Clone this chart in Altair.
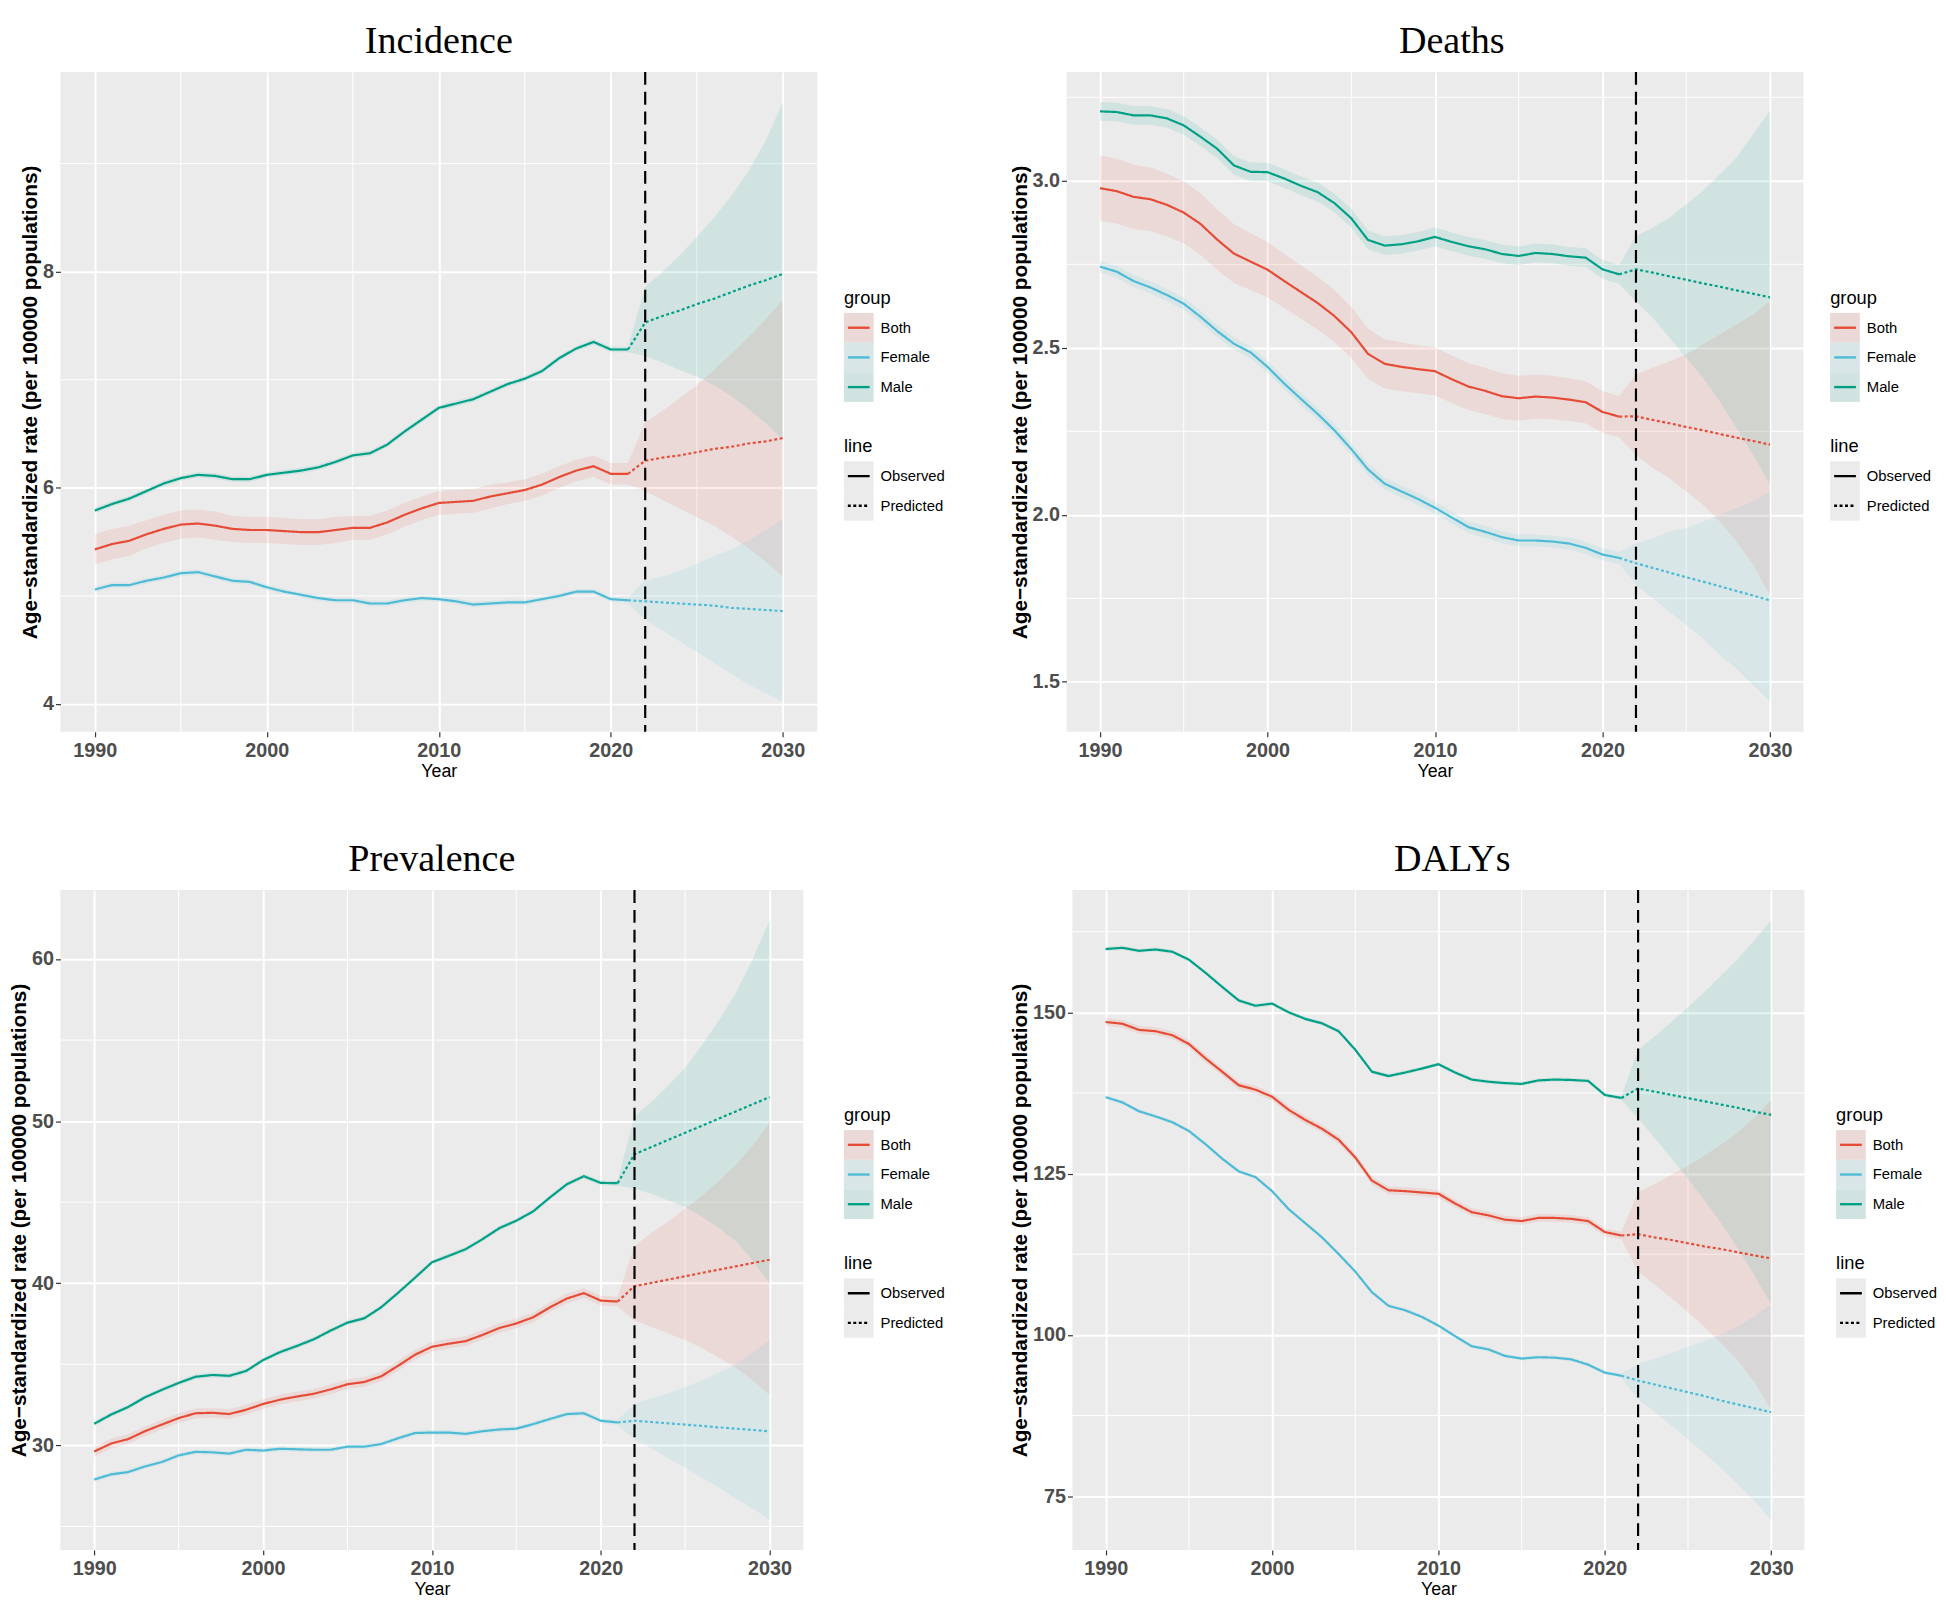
import altair as alt
import pandas as pd

# ---------------- data ----------------
GROUPS = ["Both", "Female", "Male"]
GROUP_COLORS = ["#E64B35", "#4DBBD5", "#00A087"]
LINE_TYPES = ["Observed", "Predicted"]
OBS_YEARS = list(range(1990, 2022))
PRED_YEARS = list(range(2022, 2031))
FORECAST_START = 2022
X_TICKS = [1990, 2000, 2010, 2020, 2030]
X_MINOR = [1995, 2005, 2015, 2025]
Y_TITLE = "Age\u2212standardized rate (per 100000 populations)"

# ---- Incidence ----
inc_obs_both = [5.43, 5.48, 5.51, 5.57, 5.62, 5.66, 5.67, 5.65, 5.62, 5.61,
                5.61, 5.60, 5.59, 5.59, 5.61, 5.63, 5.63, 5.68, 5.75, 5.81,
                5.86, 5.87, 5.88, 5.92, 5.95, 5.98, 6.03, 6.10, 6.16, 6.20,
                6.13, 6.13]
inc_obs_female = [5.06, 5.10, 5.10, 5.14, 5.17, 5.21, 5.22, 5.18, 5.14, 5.13,
                  5.08, 5.04, 5.01, 4.98, 4.96, 4.96, 4.93, 4.93, 4.96, 4.98,
                  4.97, 4.95, 4.92, 4.93, 4.94, 4.94, 4.97, 5.00, 5.04, 5.04,
                  4.97, 4.96]
inc_obs_male = [5.79, 5.85, 5.90, 5.97, 6.04, 6.09, 6.12, 6.11, 6.08, 6.08,
                6.12, 6.14, 6.16, 6.19, 6.24, 6.30, 6.32, 6.40, 6.52, 6.63,
                6.74, 6.78, 6.82, 6.89, 6.96, 7.01, 7.08, 7.20, 7.29, 7.35,
                7.28, 7.28]
inc_hw_both = [0.14, 0.14, 0.14, 0.13, 0.13, 0.13, 0.13, 0.13, 0.12, 0.12,
               0.12, 0.12, 0.12, 0.12, 0.12, 0.11, 0.11, 0.11, 0.11, 0.11,
               0.11, 0.11, 0.11, 0.11, 0.10, 0.10, 0.10, 0.10, 0.10, 0.10,
               0.10, 0.10]
inc_hw_female = 0.025
inc_hw_male = 0.025
inc_pred_both = [6.25, 6.28, 6.30, 6.33, 6.36, 6.38, 6.41, 6.43, 6.46]
inc_lo_both = [5.97, 5.89, 5.81, 5.73, 5.65, 5.55, 5.44, 5.32, 5.18]
inc_hi_both = [6.61, 6.71, 6.83, 6.95, 7.09, 7.24, 7.39, 7.56, 7.74]
inc_pred_female = [4.95, 4.94, 4.93, 4.92, 4.91, 4.89, 4.88, 4.87, 4.86]
inc_lo_female = [4.78, 4.68, 4.58, 4.48, 4.38, 4.28, 4.18, 4.10, 4.02]
inc_hi_female = [5.14, 5.18, 5.23, 5.30, 5.37, 5.43, 5.51, 5.61, 5.71]
inc_pred_male = [7.53, 7.59, 7.64, 7.70, 7.75, 7.81, 7.87, 7.92, 7.98]
inc_lo_male = [7.22, 7.16, 7.09, 7.03, 6.95, 6.85, 6.73, 6.60, 6.45]
inc_hi_male = [7.86, 8.00, 8.15, 8.32, 8.50, 8.70, 8.93, 9.21, 9.57]

# ---- Deaths ----
dea_obs_both = [2.978, 2.969, 2.952, 2.945, 2.928, 2.905, 2.871, 2.824, 2.782, 2.758,
                2.734, 2.700, 2.667, 2.634, 2.595, 2.547, 2.482, 2.452, 2.443, 2.436,
                2.430, 2.406, 2.384, 2.371, 2.355, 2.349, 2.354, 2.351, 2.345, 2.337,
                2.308, 2.294]
dea_obs_female = [2.743, 2.728, 2.700, 2.681, 2.658, 2.632, 2.593, 2.550, 2.512, 2.486,
                  2.443, 2.393, 2.347, 2.302, 2.253, 2.197, 2.136, 2.093, 2.070, 2.047,
                  2.021, 1.992, 1.963, 1.949, 1.933, 1.923, 1.923, 1.920, 1.914, 1.901,
                  1.881, 1.871]
dea_obs_male = [3.208, 3.206, 3.196, 3.196, 3.187, 3.166, 3.132, 3.096, 3.046, 3.027,
                3.026, 3.007, 2.985, 2.966, 2.933, 2.888, 2.823, 2.806, 2.810, 2.819,
                2.832, 2.817, 2.804, 2.795, 2.781, 2.775, 2.784, 2.781, 2.774, 2.770,
                2.735, 2.720]
dea_hw_both = [0.098, 0.097, 0.096, 0.095, 0.094, 0.093, 0.092, 0.090, 0.088, 0.085,
               0.083, 0.081, 0.080, 0.079, 0.078, 0.077, 0.075, 0.074, 0.073, 0.072,
               0.072, 0.071, 0.070, 0.069, 0.068, 0.067, 0.066, 0.065, 0.064, 0.063,
               0.062, 0.062]
dea_hw_female = 0.018
dea_hw_male = 0.028
dea_pred_both = [2.295, 2.284, 2.274, 2.263, 2.253, 2.242, 2.231, 2.221, 2.210]
dea_lo_both = [2.18, 2.14, 2.11, 2.07, 2.03, 1.98, 1.92, 1.85, 1.76]
dea_hi_both = [2.42, 2.44, 2.46, 2.48, 2.51, 2.54, 2.57, 2.60, 2.64]
dea_pred_female = [1.855, 1.841, 1.827, 1.813, 1.800, 1.786, 1.772, 1.758, 1.744]
dea_lo_female = [1.79, 1.75, 1.71, 1.67, 1.63, 1.58, 1.54, 1.49, 1.44]
dea_hi_female = [1.914, 1.93, 1.95, 1.96, 1.98, 2.00, 2.02, 2.04, 2.07]
dea_pred_male = [2.735, 2.725, 2.714, 2.704, 2.693, 2.683, 2.672, 2.662, 2.651]
dea_lo_male = [2.638, 2.59, 2.53, 2.47, 2.41, 2.34, 2.26, 2.18, 2.09]
dea_hi_male = [2.834, 2.86, 2.89, 2.93, 2.97, 3.02, 3.07, 3.14, 3.21]

# ---- Prevalence ----
pre_obs_both = [29.62, 30.11, 30.38, 30.87, 31.28, 31.68, 31.98, 32.01, 31.93, 32.20,
                32.55, 32.82, 33.01, 33.18, 33.45, 33.77, 33.91, 34.26, 34.91, 35.59,
                36.08, 36.27, 36.43, 36.81, 37.24, 37.52, 37.90, 38.52, 39.06, 39.39,
                38.93, 38.87]
pre_obs_female = [27.89, 28.21, 28.35, 28.70, 28.97, 29.38, 29.60, 29.57, 29.49, 29.73,
                  29.68, 29.79, 29.76, 29.73, 29.73, 29.92, 29.92, 30.08, 30.44, 30.76,
                  30.79, 30.79, 30.71, 30.87, 30.98, 31.03, 31.31, 31.63, 31.93, 31.98,
                  31.52, 31.41]
pre_obs_male = [31.33, 31.90, 32.36, 32.96, 33.42, 33.85, 34.23, 34.34, 34.29, 34.59,
                35.26, 35.75, 36.13, 36.54, 37.08, 37.57, 37.84, 38.52, 39.41, 40.34,
                41.29, 41.69, 42.10, 42.72, 43.40, 43.86, 44.43, 45.30, 46.11, 46.60,
                46.19, 46.17]
pre_hw_both = 0.30
pre_hw_female = 0.15
pre_hw_male = 0.15
pre_pred_both = [39.82, 40.02, 40.23, 40.43, 40.64, 40.84, 41.04, 41.25, 41.45]
pre_lo_both = [37.7, 37.3, 36.9, 36.5, 36.0, 35.4, 34.8, 34.0, 33.1]
pre_hi_both = [42.3, 43.1, 43.8, 44.6, 45.4, 46.3, 47.3, 48.5, 49.9]
pre_pred_female = [31.52, 31.44, 31.36, 31.28, 31.20, 31.11, 31.03, 30.95, 30.87]
pre_lo_female = [30.38, 29.8, 29.2, 28.6, 28.0, 27.4, 26.7, 26.1, 25.4]
pre_hi_female = [32.55, 32.9, 33.2, 33.6, 34.0, 34.5, 35.0, 35.7, 36.5]
pre_pred_male = [47.96, 48.40, 48.84, 49.28, 49.72, 50.16, 50.60, 51.04, 51.48]
pre_lo_male = [45.84, 45.5, 45.1, 44.7, 44.1, 43.4, 42.6, 41.4, 40.0]
pre_hi_male = [50.3, 51.2, 52.2, 53.3, 54.7, 56.2, 57.9, 60.0, 62.4]

# ---- DALYs ----
dal_obs_both = [148.50, 148.23, 147.28, 147.07, 146.46, 145.10, 142.85, 140.80, 138.69, 138.01,
                136.92, 134.88, 133.31, 131.95, 130.25, 127.52, 123.91, 122.41, 122.28, 122.07,
                121.87, 120.37, 119.01, 118.53, 117.85, 117.64, 118.12, 118.12, 117.98, 117.64,
                115.94, 115.40]
dal_obs_female = [136.85, 136.04, 134.67, 133.86, 132.97, 131.61, 129.56, 127.32, 125.34, 124.46,
                  122.28, 119.48, 117.30, 115.12, 112.53, 109.81, 106.61, 104.50, 103.81, 102.79,
                  101.43, 99.80, 98.23, 97.75, 96.73, 96.32, 96.53, 96.46, 96.19, 95.37,
                  94.14, 93.66]
dal_obs_male = [159.81, 160.01, 159.54, 159.74, 159.40, 158.17, 156.13, 153.95, 151.84, 151.02,
                151.36, 150.00, 148.98, 148.30, 147.07, 144.21, 140.80, 140.12, 140.67, 141.28,
                141.96, 140.67, 139.58, 139.24, 139.03, 138.90, 139.44, 139.58, 139.51, 139.37,
                137.19, 136.72]
dal_hw_both = 0.6
dal_hw_female = 0.3
dal_hw_male = 0.3
dal_pred_both = [115.6, 115.1, 114.7, 114.2, 113.7, 113.3, 112.8, 112.3, 111.85]
dal_lo_both = [109.8, 107.8, 105.7, 103.5, 101.2, 98.7, 96.0, 92.6, 88.4]
dal_hi_both = [122.1, 123.4, 124.8, 126.2, 127.8, 129.5, 131.4, 133.7, 136.4]
dal_pred_female = [92.9, 92.3, 91.7, 91.1, 90.5, 89.8, 89.2, 88.6, 88.0]
dal_lo_female = [90.0, 88.0, 85.9, 83.8, 81.6, 79.3, 76.8, 74.2, 71.3]
dal_hi_female = [95.5, 96.3, 97.2, 98.1, 99.1, 100.1, 101.3, 102.9, 104.7]
dal_pred_male = [138.2, 137.7, 137.2, 136.7, 136.2, 135.7, 135.2, 134.6, 134.1]
dal_lo_male = [133.6, 130.5, 127.4, 124.2, 120.8, 117.3, 113.4, 109.2, 104.7]
dal_hi_male = [144.2, 146.3, 148.5, 150.8, 153.2, 155.7, 158.3, 161.2, 164.3]

PANELS = {
    "Incidence": dict(
        obs={"Both": inc_obs_both, "Female": inc_obs_female, "Male": inc_obs_male},
        hw={"Both": inc_hw_both, "Female": inc_hw_female, "Male": inc_hw_male},
        pred={"Both": inc_pred_both, "Female": inc_pred_female, "Male": inc_pred_male},
        lo={"Both": inc_lo_both, "Female": inc_lo_female, "Male": inc_lo_male},
        hi={"Both": inc_hi_both, "Female": inc_hi_female, "Male": inc_hi_male},
        ticks=[4, 6, 8], minor=[5, 7, 9], fmt="d"),
    "Deaths": dict(
        obs={"Both": dea_obs_both, "Female": dea_obs_female, "Male": dea_obs_male},
        hw={"Both": dea_hw_both, "Female": dea_hw_female, "Male": dea_hw_male},
        pred={"Both": dea_pred_both, "Female": dea_pred_female, "Male": dea_pred_male},
        lo={"Both": dea_lo_both, "Female": dea_lo_female, "Male": dea_lo_male},
        hi={"Both": dea_hi_both, "Female": dea_hi_female, "Male": dea_hi_male},
        ticks=[1.5, 2.0, 2.5, 3.0], minor=[1.75, 2.25, 2.75, 3.25], fmt=".1f"),
    "Prevalence": dict(
        obs={"Both": pre_obs_both, "Female": pre_obs_female, "Male": pre_obs_male},
        hw={"Both": pre_hw_both, "Female": pre_hw_female, "Male": pre_hw_male},
        pred={"Both": pre_pred_both, "Female": pre_pred_female, "Male": pre_pred_male},
        lo={"Both": pre_lo_both, "Female": pre_lo_female, "Male": pre_lo_male},
        hi={"Both": pre_hi_both, "Female": pre_hi_female, "Male": pre_hi_male},
        ticks=[30, 40, 50, 60], minor=[25, 35, 45, 55], fmt="d"),
    "DALYs": dict(
        obs={"Both": dal_obs_both, "Female": dal_obs_female, "Male": dal_obs_male},
        hw={"Both": dal_hw_both, "Female": dal_hw_female, "Male": dal_hw_male},
        pred={"Both": dal_pred_both, "Female": dal_pred_female, "Male": dal_pred_male},
        lo={"Both": dal_lo_both, "Female": dal_lo_female, "Male": dal_lo_male},
        hi={"Both": dal_hi_both, "Female": dal_hi_female, "Male": dal_hi_male},
        ticks=[75, 100, 125, 150], minor=[87.5, 112.5, 137.5, 162.5], fmt="d"),
}

# ---------------- styling ----------------
SANS = "Liberation Sans"
SERIF = "Liberation Serif"
PANEL_BG = "#EBEBEB"
TITLE_SIZE = 38.5
TITLE_OFFSET = 10
PANEL_H = 667
BAND_OPACITY = 0.11
DASHES = [[1, 0], [3, 2.5]]

cscale = alt.Scale(domain=GROUPS, range=GROUP_COLORS)
dscale = alt.Scale(domain=LINE_TYPES, range=DASHES)


def panel(name, width, title_dx=0):
    spec = PANELS[name]
    band_rows, line_rows = [], []
    for g in GROUPS:
        obs = spec["obs"][g]
        hw = spec["hw"][g]
        for i, yr in enumerate(OBS_YEARS):
            h = hw[i] if isinstance(hw, list) else hw
            band_rows.append({"group": g, "year": yr, "lo": obs[i] - h, "hi": obs[i] + h})
            line_rows.append({"group": g, "year": yr, "value": obs[i], "line": "Observed"})
        line_rows.append({"group": g, "year": OBS_YEARS[-1], "value": obs[-1], "line": "Predicted"})
        for i, yr in enumerate(PRED_YEARS):
            band_rows.append({"group": g, "year": yr, "lo": spec["lo"][g][i], "hi": spec["hi"][g][i]})
            line_rows.append({"group": g, "year": yr, "value": spec["pred"][g][i], "line": "Predicted"})
    band_df = pd.DataFrame(band_rows)
    line_df = pd.DataFrame(line_rows)
    ymin = min(band_df["lo"].min(), line_df["value"].min())
    ymax = max(band_df["hi"].max(), line_df["value"].max())
    pad = (ymax - ymin) * 0.05

    xscale = alt.Scale(domain=[1988, 2032], nice=False, zero=False)
    yscale = alt.Scale(domain=[ymin - pad, ymax + pad], nice=False, zero=False)
    common = dict(grid=True, gridColor="white", gridWidth=2, domain=False,
                  tickColor="#333333", tickSize=5, tickWidth=1.2,
                  labelFont=SANS, labelFontSize=20, labelFontWeight="bold",
                  labelColor="#4D4D4D", labelFlush=False, labelOverlap=False,
                  titleColor="black")
    xaxis = alt.Axis(values=X_TICKS, format="d", title="Year", labelPadding=3.5,
                     titleFont=SANS, titleFontSize=18, titleFontWeight="normal",
                     titlePadding=3, **common)
    yaxis = alt.Axis(values=spec["ticks"], format=spec["fmt"], title=Y_TITLE,
                     labelPadding=2, titleFont=SANS, titleFontSize=21,
                     titleFontWeight="bold", titlePadding=2, **common)

    def X(field):
        return alt.X(field, type="quantitative", scale=xscale, axis=xaxis)

    def Y(field):
        return alt.Y(field, type="quantitative", scale=yscale, axis=yaxis)

    minor_x = alt.Chart(pd.DataFrame({"year": X_MINOR})).mark_rule(
        color="white", strokeWidth=1).encode(x=X("year"))
    minor_y = alt.Chart(pd.DataFrame({"v": spec["minor"]})).mark_rule(
        color="white", strokeWidth=1).encode(y=Y("v"))
    bands = alt.Chart(band_df).mark_area(opacity=BAND_OPACITY).encode(
        x=X("year"), y=Y("lo"), y2=alt.Y2("hi"),
        color=alt.Color("group:N", scale=cscale, legend=None))
    lines = alt.Chart(line_df).mark_line(strokeWidth=2.2).encode(
        x=X("year"), y=Y("value"),
        color=alt.Color("group:N", scale=cscale, legend=None),
        strokeDash=alt.StrokeDash("line:N", scale=dscale, legend=None))
    vline = alt.Chart(pd.DataFrame({"year": [FORECAST_START]})).mark_rule(
        color="black", strokeWidth=2.2, strokeDash=[13, 7]).encode(x=X("year"))

    return alt.layer(minor_x, minor_y, bands, lines, vline).properties(
        width=width, height=PANEL_H,
        title=alt.TitleParams(name, font=SERIF, fontSize=TITLE_SIZE, fontWeight="normal",
                              color="black", anchor="middle", frame="group",
                              offset=TITLE_OFFSET, dx=title_dx),
        view=alt.ViewBackground(fill=PANEL_BG, strokeWidth=0))


LEGEND_ITEMS = ["group", "Both", "Female", "Male", "gap", "line", "Observed", "Predicted"]
LEGEND_STEP = 30
N_PAD = int((PANEL_H / LEGEND_STEP - len(LEGEND_ITEMS)) // 2)
LEGEND_ROWS = ([f"pad_top_{i}" for i in range(N_PAD)] + LEGEND_ITEMS
               + [f"pad_bot_{i}" for i in range(N_PAD)])


def legend(width=100):
    n = len(LEGEND_ROWS)
    po = max(0.0, (PANEL_H / LEGEND_STEP - n) / 2)
    ys = alt.Scale(type="band", domain=LEGEND_ROWS, paddingInner=0, paddingOuter=min(po, 1.0))

    def Yb(center=False):
        if center:
            return alt.Y("row:N", scale=ys, axis=None, bandPosition=0.5)
        return alt.Y("row:N", scale=ys, axis=None)

    keys_df = pd.DataFrame({"row": GROUPS + LINE_TYPES})
    grp_df = pd.DataFrame({"row": GROUPS, "group": GROUPS})
    typ_df = pd.DataFrame({"row": LINE_TYPES, "line": LINE_TYPES})
    ttl_df = pd.DataFrame({"row": ["group", "line"]})

    grey = alt.Chart(keys_df).mark_rect(color=PANEL_BG).encode(
        y=Yb(), x=alt.value(0), x2=alt.value(30))
    tint = alt.Chart(grp_df).mark_rect(opacity=BAND_OPACITY).encode(
        y=Yb(), x=alt.value(0), x2=alt.value(30),
        color=alt.Color("group:N", scale=cscale, legend=None))
    glines = alt.Chart(grp_df).mark_rule(strokeWidth=2.4).encode(
        y=Yb(True), x=alt.value(4), x2=alt.value(26),
        color=alt.Color("group:N", scale=cscale, legend=None))
    tlines = alt.Chart(typ_df).mark_rule(strokeWidth=2.4, color="black").encode(
        y=Yb(True), x=alt.value(4), x2=alt.value(26),
        strokeDash=alt.StrokeDash("line:N", scale=dscale, legend=None))
    labels = alt.Chart(keys_df).mark_text(
        align="left", baseline="middle", font=SANS, fontSize=15, color="black").encode(
        y=Yb(True), x=alt.value(37), text="row:N")
    titles = alt.Chart(ttl_df).mark_text(
        align="left", baseline="middle", font=SANS, fontSize=18.5, color="black").encode(
        y=Yb(True), x=alt.value(0), text="row:N")

    return alt.layer(grey, tint, glines, tlines, labels, titles).properties(
        width=width, height=PANEL_H,
        title=alt.TitleParams(" ", font=SERIF, fontSize=TITLE_SIZE, fontWeight="normal",
                              color="white", anchor="middle", frame="group",
                              offset=TITLE_OFFSET))


IND = dict(x="independent", y="independent", color="independent", strokeDash="independent")

cells = [
    panel("Incidence", 765), legend(139),
    panel("Deaths", 745, title_dx=17), legend(100),
    panel("Prevalence", 751), legend(141),
    panel("DALYs", 740, title_dx=14), legend(100),
]

chart = alt.ConcatChart(
    concat=cells, columns=4, align="none",
    spacing=alt.RowColnumber(row=59, column=26),
).resolve_scale(**IND).properties(
    padding={"top": 5, "left": 0, "right": 0, "bottom": 0},
    background="white").configure_view(strokeWidth=0)

chart.save("out.html", embed_options={"renderer": "svg", "actions": False})
